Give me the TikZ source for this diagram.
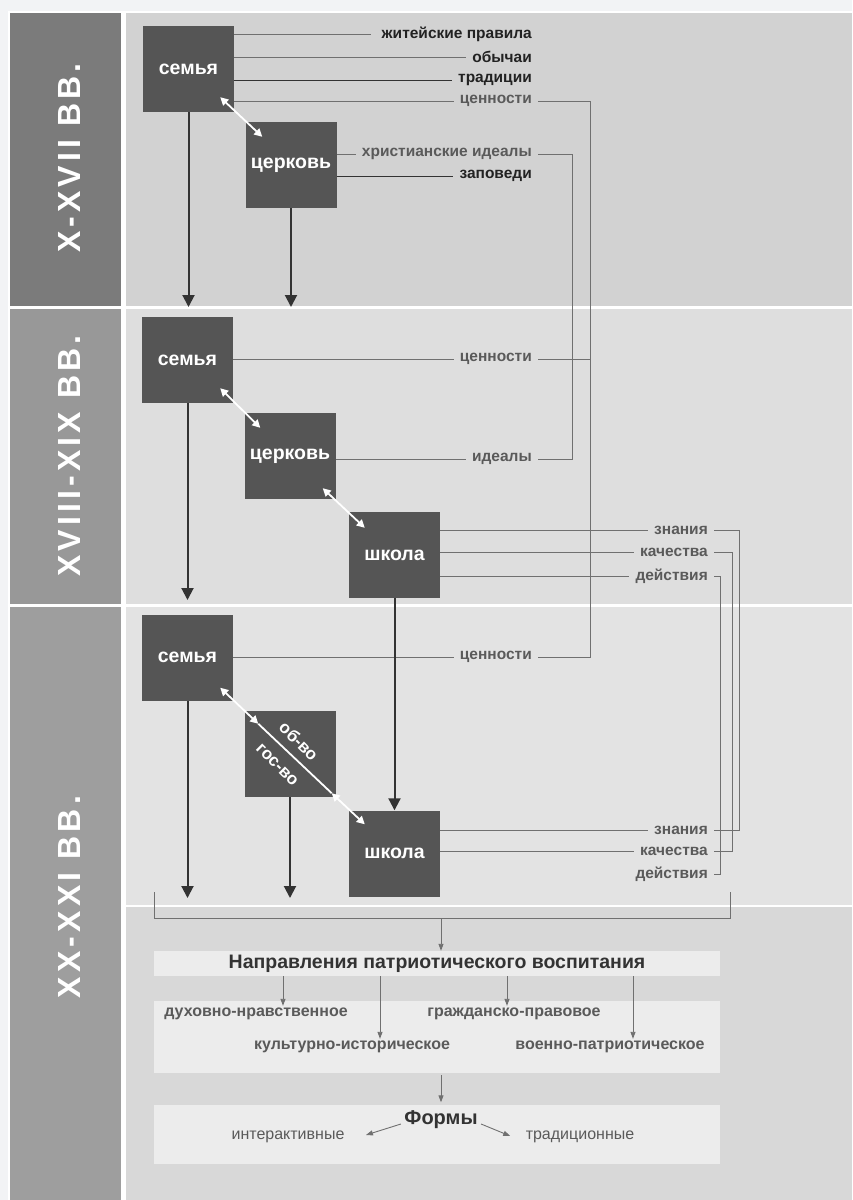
\documentclass[tikz,border=0pt]{standalone}
\usepackage{fontspec}
\setmainfont{Liberation Sans}
\usetikzlibrary{arrows.meta,calc}

\definecolor{pagebg}{HTML}{F2F3F5}
\definecolor{eraone}{HTML}{7B7B7B}
\definecolor{eratwo}{HTML}{989898}
\definecolor{erathree}{HTML}{9E9E9E}
\definecolor{bandone}{HTML}{D2D2D2}
\definecolor{bandtwo}{HTML}{DEDEDE}
\definecolor{bandthree}{HTML}{E3E3E3}
\definecolor{bandfour}{HTML}{D8D8D8}
\definecolor{panelbg}{HTML}{ECECEC}
\definecolor{boxgray}{HTML}{555555}
\definecolor{wiregray}{HTML}{707070}
\definecolor{wiredark}{HTML}{333333}
\definecolor{inkgray}{HTML}{5A5A5A}
\definecolor{inkdark}{HTML}{222222}

\begin{document}
\begin{tikzpicture}[x=1pt,y=-1pt,
    box/.style={fill=boxgray,text=white,font=\bfseries\fontsize{19.5}{19.5}\selectfont,
      minimum width=91pt,minimum height=86pt,inner sep=0pt},
    lbl/.style={anchor=east,font=\bfseries\fontsize{15.5}{16}\selectfont,text=inkgray,
      inner xsep=6pt,inner ysep=1pt},
    lbldark/.style={lbl,text=inkdark},
    era/.style={rotate=90,text=white,
      font=\bfseries\fontsize{32}{32}\selectfont\addfontfeature{LetterSpace=13}},
    wire/.style={draw=wiregray,line width=0.9pt},
    wiredk/.style={draw=wiredark,line width=1pt},
    down/.style={draw=wiredark,line width=2pt,-{Triangle[length=12pt,width=12pt]}},
    dbl/.style={draw=white,line width=1.8pt,
      {Triangle[length=8pt,width=8pt]}-{Triangle[length=8pt,width=8pt]}},
    thinarr/.style={draw=wiregray,line width=0.9pt,-{Triangle[length=7pt,width=5pt]}},
    panel/.style={fill=panelbg,minimum width=566pt,inner sep=0pt},
    item/.style={font=\bfseries\fontsize{16}{16}\selectfont,text=inkgray,inner sep=2pt},
    diag/.style={text=white,font=\bfseries\fontsize{17}{17}\selectfont,rotate=-45,inner sep=0pt},
  ]
\useasboundingbox (0,0) rectangle (852,1200);
\fill[pagebg] (0,0) rectangle (852,1200);
\fill[white] (8,11) rectangle (852,1200);

% bands: left column and right field
\fill[eraone] (10,13) rectangle (121,306);
\fill[eratwo] (10,309) rectangle (121,604);
\fill[erathree] (10,607) rectangle (121,1200);
\fill[bandone] (126,13) rectangle (852,306);
\fill[bandtwo] (126,309) rectangle (852,604);
\fill[bandthree] (126,607) rectangle (852,905);
\fill[bandfour] (126,907) rectangle (852,1200);

\node[era] (eraA) at (69,158) {X-XVII ВВ.};
\node[era] (eraB) at (69,456) {XVIII-XIX ВВ.};
\node[era] (eraC) at (69,897) {XX-XXI ВВ.};

% X-XVII
\node[box] (sem1) at (188.5,69) {семья};
\node[box] (cer1) at (291,165) {церковь};
\node[lbldark] (zhit) at (538,34) {житейские правила};
\node[lbldark] (obych) at (538,57) {обычаи};
\node[lbldark] (trad) at (538,80) {традиции};
\node[lbl] (cen1) at (538,101) {ценности};
\node[lbl] (xrid) at (538,154) {христианские идеалы};
\node[lbldark] (zap) at (538,176) {заповеди};
\draw[wire] (sem1.east |- zhit) -- ([xshift=-5pt]zhit.west);
\draw[wire] (sem1.east |- obych) -- (obych.west);
\draw[wiredk] (sem1.east |- trad) -- (trad.west);
\draw[wire] (sem1.east |- cen1) -- (cen1.west);
\draw[wire] (cer1.east |- xrid) -- (xrid.west);
\draw[wiredk] (cer1.east |- zap) -- (zap.west);
\draw[dbl] ($(sem1.south east)+(-14,-15)$) -- ($(cer1.north west)+(17,15)$);
\coordinate (endA) at (0,307);
\draw[down] (sem1.south) -- (sem1.south |- endA);
\draw[down] (cer1.south) -- (cer1.south |- endA);

% XVIII-XIX
\node[box] (sem2) at (187.5,360) {семья};
\node[box] (cer2) at (290,456) {церковь};
\node[box] (shk2) at (394.5,555) {школа};
\node[lbl] (cen2) at (538,359) {ценности};
\node[lbl] (ideal) at (538,459) {идеалы};
\node[lbl] (zn2) at (714,530) {знания};
\node[lbl] (kach2) at (714,552) {качества};
\node[lbl] (deis2) at (714,576) {действия};
\draw[wire] (sem2.east |- cen2) -- (cen2.west);
\draw[wire] (cer2.east |- ideal) -- (ideal.west);
\draw[wire] (shk2.east |- zn2) -- (zn2.west);
\draw[wire] (shk2.east |- kach2) -- (kach2.west);
\draw[wire] (shk2.east |- deis2) -- (deis2.west);
\draw[dbl] ($(sem2.south east)+(-13,-15)$) -- ($(cer2.north west)+(16,15)$);
\draw[dbl] ($(cer2.south east)+(-13,-11)$) -- ($(shk2.north west)+(16,16)$);
\coordinate (endB) at (0,600);
\draw[down] (sem2.south) -- (sem2.south |- endB);

% XX-XXI
\node[box] (sem3) at (187.5,657.5) {семья};
\node[box] (obsh) at (290,754) {};
\node[box] (shk3) at (394.5,853.5) {школа};
\node[diag] (obv) at (299,741) {об-во};
\node[diag] (gosv) at (277,765) {гос-во};
\node[lbl] (cen3) at (538,657) {ценности};
\node[lbl] (zn3) at (714,830) {знания};
\node[lbl] (kach3) at (714,851) {качества};
\node[lbl] (deis3) at (714,874) {действия};
\draw[wire] (sem3.east |- cen3) -- (cen3.west);
\draw[wire] (shk3.east |- zn3) -- (zn3.west);
\draw[wire] (shk3.east |- kach3) -- (kach3.west);
\draw[dbl] ($(sem3.south east)+(-13,-13)$) -- ($(obsh.north west)+(14,13)$);
\draw[draw=white,line width=1.8pt] ($(obsh.north west)+(14,13)$) -- ($(obsh.south east)+(-4,-4)$);
\draw[dbl] ($(obsh.south east)+(-4,-4)$) -- ($(shk3.north west)+(16,14)$);
\coordinate (endC) at (0,898);
\draw[down] (sem3.south) -- (sem3.south |- endC);
\draw[down] (obsh.south) -- (obsh.south |- endC);
\draw[down] (shk2.south) -- (shk3.north);

% links between the periods
\coordinate (cenbus) at (590,0);
\coordinate (idbus) at (572,0);
\coordinate (znbus) at (739,0);
\coordinate (kabus) at (732,0);
\coordinate (debus) at (720,0);
\draw[wire] (cen1.east) -- (cen1 -| cenbus) -- (cen3 -| cenbus) -- (cen3.east);
\draw[wire] (cen2.east) -- (cen2 -| cenbus);
\draw[wire] (xrid.east) -- (xrid -| idbus) -- (ideal -| idbus) -- (ideal.east);
\draw[wire] (zn2.east) -- (zn2 -| znbus) -- (zn3 -| znbus) -- (zn3.east);
\draw[wire] (kach2.east) -- (kach2 -| kabus) -- (kach3 -| kabus) -- (kach3.east);
\draw[wire] (deis2.east) -- (deis2 -| debus) -- (deis3 -| debus) -- (deis3.east);

% bracket and directions
\coordinate (brL) at (154,892);
\coordinate (brR) at (730,892);
\coordinate (brM) at (441,918);
\draw[wire] (brL) -- (brL |- brM) -- (brR |- brM) -- (brR);
\node[panel,minimum height=25pt,text=wiredark,font=\bfseries\fontsize{19.5}{19.5}\selectfont]
  (napr) at (437,963.5) {Направления патриотического воспитания};
\draw[thinarr] (brM) -- (brM |- napr.north);
\node[panel,minimum height=72pt] (dirs) at (437,1037) {};
\node[item] (duh) at (256,1014) {духовно-нравственное};
\node[item] (grazh) at (514,1014) {гражданско-правовое};
\node[item] (kult) at (352,1047) {культурно-историческое};
\node[item] (voen) at (610,1047) {военно-патриотическое};
\coordinate (tap1) at (283,976);
\coordinate (tap2) at (380,976);
\coordinate (tap3) at (507,976);
\coordinate (tap4) at (633,976);
\draw[thinarr] (tap1) -- (tap1 |- duh.north);
\draw[thinarr] (tap2) -- (tap2 |- kult.north);
\draw[thinarr] (tap3) -- (tap3 |- grazh.north);
\draw[thinarr] (tap4) -- (tap4 |- voen.north);

% forms
\node[panel,minimum height=59pt] (forms) at (437,1134) {};
\draw[thinarr,shorten <=2pt,shorten >=2pt] (dirs.south -| brM) -- (forms.north -| brM);
\node[text=wiredark,font=\bfseries\fontsize{20}{20}\selectfont] (formy) at (441,1120) {Формы};
\node[text=inkgray,font=\fontsize{16}{16}\selectfont] (inter) at (288,1137) {интерактивные};
\node[text=inkgray,font=\fontsize{16}{16}\selectfont] (tradf) at (580,1137) {традиционные};
\draw[thinarr] ([yshift=-4pt]formy.west) -- ([xshift=18pt,yshift=2pt]inter.east);
\draw[thinarr] ([yshift=-4pt]formy.east) -- ([xshift=-12pt,yshift=1pt]tradf.west);
\end{tikzpicture}
\end{document}
